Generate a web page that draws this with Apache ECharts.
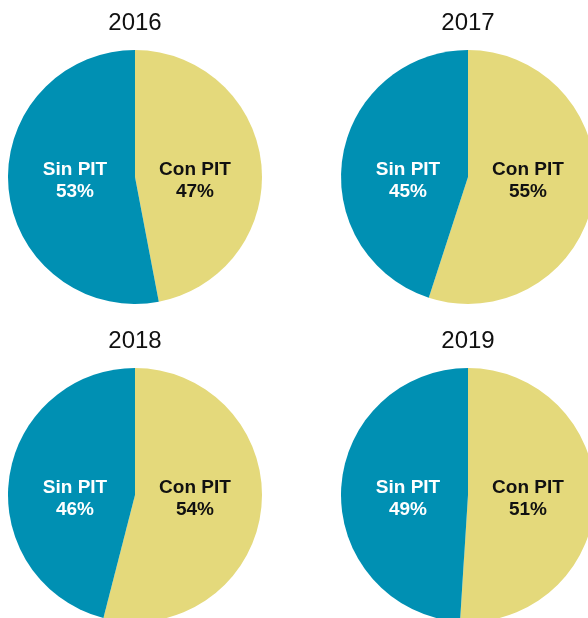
<!DOCTYPE html>
<html>
<head>
<meta charset="utf-8">
<script src="https://cdn.jsdelivr.net/npm/echarts@6/dist/echarts.min.js"></script>
<style>
  html, body { margin: 0; padding: 0; background: #ffffff; }
  #chart { width: 588px; height: 618px; }
</style>
</head>
<body>
<div id="chart"></div>
<script>
// Share of cases with and without PIT, by year
const years = ['2016', '2017', '2018', '2019'];
const categories = ['Con PIT', 'Sin PIT'];
const conPIT = [47, 55, 54, 51];
const sinPIT = [53, 45, 46, 49];

const colors = { 'Con PIT': '#E4D97B', 'Sin PIT': '#0090B3' };
const labelColors = { 'Con PIT': '#111111', 'Sin PIT': '#ffffff' };

// pie centres in pixels and radius
const centres = [[135, 177], [468, 177], [135, 495], [468, 495]];
const radius = 127;
const labelOffsetX = 60;
const labelOffsetY = 4;

const chart = echarts.init(document.getElementById('chart'), null, { renderer: 'canvas' });

const series = years.map((y, i) => ({
  type: 'pie',
  name: y,
  center: centres[i],
  radius: [0, radius],
  startAngle: 90,
  clockwise: true,
  silent: true,
  label: {
    show: true,
    position: 'inside',
    formatter: p => p.name + '\n' + p.value + '%',
    fontFamily: 'Liberation Sans, Arial, sans-serif',
    fontWeight: 'bold',
    fontSize: 19,
    lineHeight: 22,
    align: 'center'
  },
  labelLine: { show: false },
  labelLayout: params => {
    const c = centres[params.seriesIndex];
    const dx = params.dataIndex === 0 ? labelOffsetX : -labelOffsetX;
    return { x: c[0] + dx, y: c[1] + labelOffsetY, align: 'center', verticalAlign: 'middle' };
  },
  itemStyle: { borderWidth: 0 },
  data: categories.map((cat, k) => ({
    name: cat,
    value: k === 0 ? conPIT[i] : sinPIT[i],
    itemStyle: { color: colors[cat] },
    label: { color: labelColors[cat] }
  }))
}));

const titles = years.map((y, i) => ({
  text: y,
  left: centres[i][0] - 5,
  top: i < 2 ? 6 : 324,
  textAlign: 'center',
  textStyle: {
    fontFamily: 'Liberation Sans, Arial, sans-serif',
    fontWeight: 'normal',
    fontSize: 24,
    color: '#111111'
  }
}));

chart.setOption({
  animation: false,
  backgroundColor: '#ffffff',
  title: titles,
  series: series
});
</script>
</body>
</html>
